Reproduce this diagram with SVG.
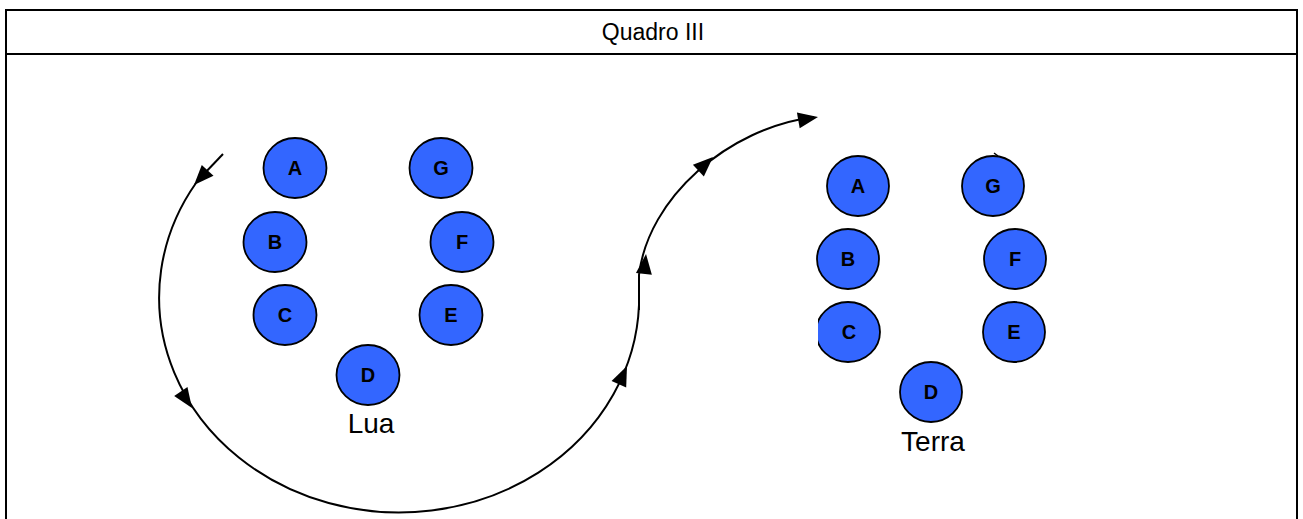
<svg xmlns="http://www.w3.org/2000/svg" width="1303" height="519" viewBox="0 0 1303 519">
  <style>
    .frame { fill: none; stroke: #000; stroke-width: 2; }
    .node ellipse { fill: #3366ff; stroke: #000; stroke-width: 1.8; }
    .node text { font-family: "Liberation Sans", Arial, sans-serif; font-size: 20px; font-weight: bold; fill: #000; text-anchor: middle; }
    .label { font-family: "Liberation Sans", Arial, sans-serif; font-size: 28px; fill: #000; text-anchor: middle; }
    .title { font-family: "Liberation Sans", Arial, sans-serif; font-size: 23px; fill: #000; text-anchor: middle; }
    .orbit { fill: none; stroke: #000; stroke-width: 2; }
  </style>
  <defs>
    <path id="head" d="M0,0 L-20,-8 L-20,8 Z" fill="#000"/>
    <clipPath id="cutC"><rect x="818" y="290" width="80" height="80"/></clipPath>
  </defs>

  <rect width="1303" height="519" fill="#fff"/>

  <!-- table frame -->
  <path class="frame" d="M6,522 L6,10 L1297,10 L1297,522"/>
  <line class="frame" x1="6" y1="54" x2="1297" y2="54"/>
  <text class="title" x="653" y="40">Quadro III</text>

  <!-- moon -->
  <g id="lua-A" class="node"><ellipse cx="295" cy="168" rx="31.5" ry="30"/><text x="295" y="175">A</text></g>
  <g id="lua-G" class="node"><ellipse cx="441" cy="168" rx="31.5" ry="30"/><text x="441" y="175">G</text></g>
  <g id="lua-B" class="node"><ellipse cx="275" cy="242" rx="31.5" ry="30"/><text x="275" y="249">B</text></g>
  <g id="lua-F" class="node"><ellipse cx="462" cy="242" rx="31.5" ry="30"/><text x="462" y="249">F</text></g>
  <g id="lua-C" class="node"><ellipse cx="285" cy="315" rx="31.5" ry="30"/><text x="285" y="322">C</text></g>
  <g id="lua-E" class="node"><ellipse cx="451" cy="315" rx="31.5" ry="30"/><text x="451" y="322">E</text></g>
  <g id="lua-D" class="node"><ellipse cx="368" cy="375" rx="31.5" ry="30"/><text x="368" y="382">D</text></g>
  <text id="lua-label" class="label" x="371" y="433">Lua</text>

  <!-- earth -->
  <g id="terra-A" class="node"><ellipse cx="858" cy="186" rx="31" ry="30"/><text x="858" y="193">A</text></g>
  <g id="terra-G" class="node"><ellipse cx="993" cy="186" rx="31" ry="30"/><text x="993" y="193">G</text><path d="M994,153 L998,156" stroke="#000" stroke-width="1.5" fill="none"/></g>
  <g id="terra-B" class="node"><ellipse cx="848" cy="259" rx="31" ry="30"/><text x="848" y="266">B</text></g>
  <g id="terra-F" class="node"><ellipse cx="1015" cy="259" rx="31" ry="30"/><text x="1015" y="266">F</text></g>
  <g id="terra-C" class="node"><ellipse cx="848" cy="332" rx="32" ry="30" clip-path="url(#cutC)"/><text x="849" y="339">C</text></g>
  <g id="terra-E" class="node"><ellipse cx="1014" cy="332" rx="31" ry="30"/><text x="1014" y="339">E</text></g>
  <g id="terra-D" class="node"><ellipse cx="931" cy="392" rx="31" ry="30"/><text x="931" y="399">D</text></g>
  <text id="terra-label" class="label" x="933" y="451">Terra</text>

  <!-- trajectory -->
  <g id="connectors">
    <line class="orbit" x1="223" y1="154" x2="203" y2="175"/>
    <path class="orbit" d="M196,183 A240,215 0 1 0 639,305"/>
    <path class="orbit" d="M639,310 L639,275 C648,198 728,128 814,117"/>
    <use href="#head" transform="translate(194,185) rotate(133)"/>
    <use href="#head" transform="translate(192,408) rotate(56)"/>
    <use href="#head" transform="translate(627,366) rotate(-66)"/>
    <use href="#head" transform="translate(646,254) rotate(-84)"/>
    <use href="#head" transform="translate(713,157) rotate(-43)"/>
    <use href="#head" transform="translate(818,117) rotate(-10)"/>
  </g>
</svg>
